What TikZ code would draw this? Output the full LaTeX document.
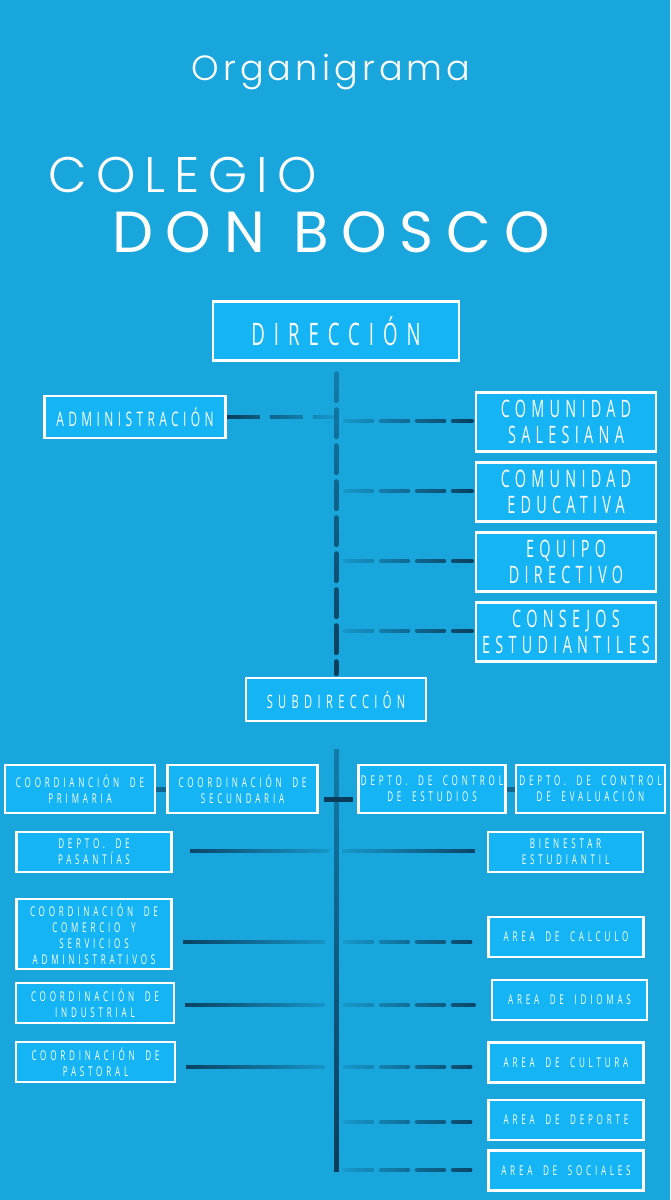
\documentclass[tikz,border=0pt]{standalone}
\usepackage{fontspec}
\usetikzlibrary{fadings}
\setmainfont{Open Sans}
\newfontfamily\boxfont[FakeStretch=0.6,LetterSpace=22]{Open Sans}
\newfontfamily\headboxfont[FakeStretch=0.6,LetterSpace=29]{Open Sans}
\newfontfamily\smallfont[FakeStretch=0.6,LetterSpace=28,WordSpace=1.8]{Open Sans}
\newfontfamily\titlefont[LetterSpace=12]{Poppins Light}
\newfontfamily\headfont[LetterSpace=18]{Poppins Light}
\newfontfamily\namefont[LetterSpace=22]{Poppins}
\definecolor{bgblue}{RGB}{25,166,221}
\definecolor{boxblue}{RGB}{21,180,245}
\definecolor{linkdark}{RGB}{9,60,90}
\tikzfading[name=toright,left color=transparent!0,right color=transparent!92]
\tikzfading[name=toleft,left color=transparent!92,right color=transparent!0]
\tikzfading[name=toup,top color=transparent!65,bottom color=transparent!0]
\tikzset{
  card/.style={draw=white,line width=2.5pt,fill=boxblue,text=white,align=center,inner sep=1pt},
  bigcard/.style={card,font=\boxfont\fontsize{24}{26}\selectfont,minimum width=180pt,minimum height=59pt},
  smallcard/.style={card,font=\smallfont\fontsize{13.5}{16}\selectfont,minimum width=155pt,minimum height=40pt},
  link/.style={linkdark,line width=4.5pt},
  dashlink/.style={link,dash pattern=on 27pt off 9pt,line cap=round},
}
\begin{document}
\begin{tikzpicture}[x=1pt,y=-1pt]
\useasboundingbox (0,0) rectangle (670,1200);
\fill[bgblue] (0,0) rectangle (670,1200);
% titulo
\node[text=white,font=\titlefont\fontsize{35}{35}\selectfont,anchor=base] (org) at (331,80) {Organigrama};
\node[text=white,font=\headfont\fontsize{50}{50}\selectfont,anchor=base west] (colegio) at (45,192) {COLEGIO};
\node[text=white,font=\namefont\fontsize{58}{58}\selectfont,anchor=base] (bosco) at (331,252) {DON BOSCO};
% primer nivel
\node[card,font=\headboxfont\fontsize{31}{31}\selectfont,minimum width=246pt,minimum height=59pt] (dir) at (336,331) {DIRECCIÓN};
\node[card,font=\boxfont\fontsize{20}{20}\selectfont,minimum width=181pt,minimum height=42pt] (admin) at (135,417) {ADMINISTRACIÓN};
\node[bigcard] (salesiana) at (566,422) {COMUNIDAD\\SALESIANA};
\node[bigcard] (educativa) at (566,492) {COMUNIDAD\\EDUCATIVA};
\node[bigcard] (equipo) at (566,562) {EQUIPO\\DIRECTIVO};
\node[bigcard] (consejos) at (566,632) {CONSEJOS\\ESTUDIANTILES};
\node[card,font=\headboxfont\fontsize{18.5}{19}\selectfont,minimum width=180pt,minimum height=43pt] (sub) at (336,699.5) {SUBDIRECCIÓN};
% segundo nivel
\node[smallcard,minimum width=150pt,minimum height=48pt] (primaria) at (80,789) {COORDIANCIÓN DE\\PRIMARIA};
\node[smallcard,minimum width=150pt,minimum height=48pt] (secundaria) at (242.5,789) {COORDINACIÓN DE\\SECUNDARIA};
\node[smallcard,minimum width=147pt,minimum height=48pt] (estudios) at (432,789) {DEPTO. DE CONTROL\\DE ESTUDIOS};
\node[smallcard,minimum width=149pt,minimum height=48pt] (evaluacion) at (590.5,789) {DEPTO. DE CONTROL\\DE EVALUACIÓN};
\node[smallcard] (pasantias) at (94,852) {DEPTO. DE\\PASANTÍAS};
\node[smallcard] (bienestar) at (565.5,852) {BIENESTAR\\ESTUDIANTIL};
\node[smallcard,minimum height=70pt] (comercio) at (94,934) {COORDINACIÓN DE\\COMERCIO Y\\SERVICIOS\\ADMINISTRATIVOS};
\node[smallcard,minimum width=158pt] (industrial) at (95,1003) {COORDINACIÓN DE\\INDUSTRIAL};
\node[smallcard,minimum width=159pt] (pastoral) at (95.5,1062) {COORDINACIÓN DE\\PASTORAL};
\node[smallcard] (calculo) at (566,937) {AREA DE CALCULO};
\node[smallcard] (idiomas) at (569.5,1000) {AREA DE IDIOMAS};
\node[smallcard] (cultura) at (566,1062.5) {AREA DE CULTURA};
\node[smallcard] (deporte) at (566,1120) {AREA DE DEPORTE};
\node[smallcard] (sociales) at (566,1170.5) {AREA DE SOCIALES};
% tronco
\coordinate (spine) at (337,1172);
\draw[linkdark,line width=5pt,dash pattern=on 27pt off 9pt,line cap=round,path fading=toup,shorten <=12pt,shorten >=3pt] (dir.south) -- (sub.north);
\draw[link,line width=5pt,path fading=toup,shorten <=27pt] (sub.south) -- (sub.south |- spine);
% conectores arriba
\draw[link,dash pattern=on 33pt off 10pt,path fading=toright,shorten >=2pt] (admin.east) -- (admin.east -| spine);
\foreach \n/\y in {salesiana/421,educativa/491,equipo/561,consejos/631}{
  \coordinate (k) at (337,\y);
  \draw[dashlink,path fading=toleft,shorten <=8pt,shorten >=3pt] (k) -- (\n.west |- k);
}
% conectores abajo
\draw[link,line width=5pt,opacity=.6] (primaria.east) -- (secundaria.west);
\draw[link,line width=5pt,opacity=.6] (estudios.east) -- (evaluacion.west);
\coordinate (j0) at (338,799);
\draw[link,line width=5pt,shorten <=5pt,shorten >=-15pt] (secundaria.east |- j0) -- (j0);
\coordinate (j1) at (337,851);
\draw[link,path fading=toright,shorten <=17pt,shorten >=8pt] (pasantias.east |- j1) -- (j1);
\draw[link,path fading=toleft,shorten <=5pt,shorten >=12pt] (j1) -- (bienestar.west |- j1);
\foreach \n/\y in {comercio/942,industrial/1005,pastoral/1067}{
  \coordinate (k) at (337,\y);
  \draw[link,path fading=toright,shorten <=10pt,shorten >=12pt] (\n.east |- k) -- (k);
}
\foreach \n/\y in {calculo/942,idiomas/1005,cultura/1067,deporte/1122,sociales/1170}{
  \coordinate (k) at (337,\y);
  \draw[dashlink,path fading=toleft,shorten <=8pt,shorten >=17pt] (k) -- (\n.west |- k);
}
\end{tikzpicture}
\end{document}
